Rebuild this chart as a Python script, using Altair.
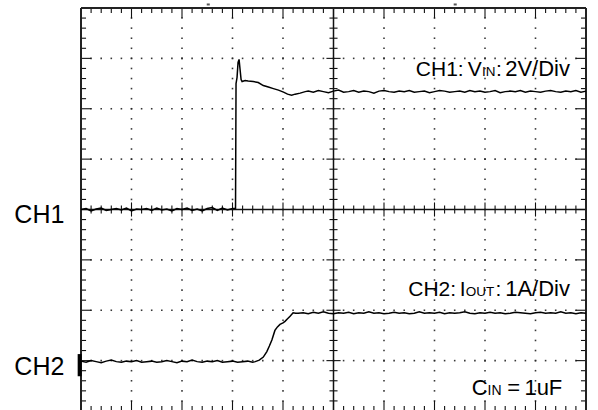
import altair as alt
import numpy as np
import pandas as pd

# ---------------- data (screen divisions: x 0..10, y -4..4) ----------------
STEP = 0.1

# CH1: V_IN (2 V/div) -- baseline on centre line, step with overshoot
ch1_base_start = 0.0
ch1_base_v = [0.0, 0.02, -0.03, 0.01, 0.03, -0.02, 0.0, 0.02, -0.01, 0.03, -0.03,
              0.01, 0.0, 0.02, -0.02, 0.03, -0.01, 0.01, -0.03, 0.02, 0.0, 0.03,
              -0.02, 0.01, -0.03, 0.02, 0.04, -0.02, 0.03, -0.01, 0.02]
ch1_edge_t = [3.06, 3.07, 3.09, 3.11, 3.13, 3.15, 3.17, 3.19, 3.25, 3.31, 3.41,
              3.51, 3.61, 3.71, 3.81, 3.91, 4.01, 4.09, 4.17, 4.24, 4.34, 4.44]
ch1_edge_v = [0.02, 2.50, 2.62, 2.92, 2.98, 2.78, 2.58, 2.54, 2.56, 2.55, 2.54,
              2.52, 2.46, 2.43, 2.40, 2.37, 2.33, 2.29, 2.27, 2.29, 2.31, 2.34]
ch1_flat_start = 4.5
ch1_flat_v = [2.35, 2.33, 2.36, 2.34, 2.32, 2.35, 2.37, 2.33, 2.34, 2.36, 2.33,
              2.35, 2.34, 2.31, 2.35, 2.36, 2.34, 2.33, 2.35, 2.34, 2.36, 2.33,
              2.34, 2.35, 2.32, 2.34, 2.36, 2.35, 2.33, 2.34, 2.35, 2.33, 2.36,
              2.34, 2.35, 2.33, 2.34, 2.36, 2.32, 2.34, 2.35, 2.34, 2.36, 2.33,
              2.35, 2.34, 2.33, 2.35, 2.36, 2.34, 2.33, 2.35, 2.34, 2.36, 2.33, 2.35]

# CH2: I_OUT (1 A/div) -- ramps one division
ch2_base_start = 0.0
ch2_base_v = [-3.01, -3.03, -3.0, -3.02, -3.04, -3.01, -2.99, -3.02, -3.03, -3.01,
              -3.02, -3.0, -3.03, -3.02, -3.01, -3.03, -3.02, -3.0, -3.02, -3.04,
              -3.01, -3.02, -2.99, -3.02, -3.03, -3.01, -3.02, -3.0, -3.03, -3.02,
              -3.01, -3.03, -3.02, -3.01, -3.03]
ch2_edge_t = [3.45, 3.53, 3.61, 3.68, 3.73, 3.78, 3.84, 3.89, 3.94, 4.00, 4.04,
              4.09, 4.14, 4.20, 4.25]
ch2_edge_v = [-3.02, -2.99, -2.93, -2.82, -2.71, -2.59, -2.40, -2.33, -2.28, -2.25,
              -2.22, -2.17, -2.12, -2.05, -2.06]
ch2_flat_start = 4.3
ch2_flat_v = [-2.06, -2.05, -2.07, -2.04, -2.06, -2.03, -2.06, -2.07, -2.05, -2.06,
              -2.04, -2.07, -2.05, -2.06, -2.03, -2.06, -2.05, -2.07, -2.06, -2.04,
              -2.06, -2.05, -2.07, -2.06, -2.03, -2.06, -2.05, -2.06, -2.04, -2.07,
              -2.05, -2.06, -2.05, -2.03, -2.06, -2.07, -2.05, -2.06, -2.04, -2.06,
              -2.05, -2.07, -2.06, -2.04, -2.05, -2.06, -2.07, -2.05, -2.04, -2.06,
              -2.05, -2.06, -2.03, -2.06, -2.05, -2.07, -2.05, -2.06]

# annotation texts: (label, x_div, y_div, font size)
ann_labels = ["CH1:", "V", "IN", ":", "2V/Div",
              "CH2:", "I", "OUT", ":", "1A/Div",
              "C", "IN", "=", "1uF",
              "CH1", "CH2"]
ann_x = [6.63, 7.66, 7.94, 8.22, 8.40,
         6.48, 7.50, 7.62, 8.21, 8.40,
         7.74, 8.05, 8.44, 8.78,
         -1.32, -1.32]
ann_y = [2.66, 2.66, 2.66, 2.66, 2.66,
         -1.715, -1.715, -1.715, -1.715, -1.715,
         -3.69, -3.69, -3.69, -3.69,
         -0.27, -3.29]
ann_size = [21, 21, 13.5, 21, 22,
            21, 21, 13.5, 21, 22,
            22, 14, 22, 22,
            25, 25]

# small trigger markers above the screen
mark_x = [2.49, 7.38]
mark_x2 = [2.55, 7.44]

# ---------------- build tables ----------------
def trace(base_start, base_v, edge_t, edge_v, flat_start, flat_v):
    t = ([round(base_start + i * STEP, 3) for i in range(len(base_v))]
         + edge_t
         + [round(flat_start + i * STEP, 3) for i in range(len(flat_v))])
    return pd.DataFrame({"t": t, "v": base_v + edge_v + flat_v})

ch1 = trace(ch1_base_start, ch1_base_v, ch1_edge_t, ch1_edge_v, ch1_flat_start, ch1_flat_v)
ch2 = trace(ch2_base_start, ch2_base_v, ch2_edge_t, ch2_edge_v, ch2_flat_start, ch2_flat_v)

# graticule
xs = np.round(np.arange(0, 10.001, 0.2), 3)
ys = np.round(np.arange(-4, 4.001, 0.2), 3)
dots = []
for xm in [1, 2, 3, 4, 6, 7, 8, 9]:
    for y in ys:
        dots.append((xm, y))
for ym in [-3, -2, -1, 1, 2, 3]:
    for x in xs:
        dots.append((x, ym))
dots_df = pd.DataFrame(dots, columns=["x", "y"])

segs = []
for x in xs[1:-1]:
    major = abs(x - round(x)) < 1e-6
    L = 0.2 if major else 0.1
    c = 0.14 if major else 0.08
    segs += [(x, x, 4, 4 - L), (x, x, -4, -4 + L), (x, x, -c, c)]
for y in ys[1:-1]:
    major = abs(y - round(y)) < 1e-6
    L = 0.2 if major else 0.1
    c = 0.14 if major else 0.08
    segs += [(0, L, y, y), (10, 10 - L, y, y), (5 - c, 5 + c, y, y)]
ticks_df = pd.DataFrame(segs, columns=["x", "x2", "y", "y2"])

frame_df = pd.DataFrame([(0, 0, -4, 4), (10, 10, -4, 4), (0, 10, 4, 4), (0, 10, -4, -4)],
                        columns=["x", "x2", "y", "y2"])
center_df = pd.DataFrame([(5, 5, -4, 4), (0, 10, 0, 0)], columns=["x", "x2", "y", "y2"])
marker_df = pd.DataFrame([(-0.066, 0.013, -2.87, -3.31)], columns=["x", "x2", "y", "y2"])
trig_df = pd.DataFrame({"x": mark_x, "x2": mark_x2, "y": [4.07] * len(mark_x)})
ann_df = pd.DataFrame({"label": ann_labels, "x": ann_x, "y": ann_y, "fs": ann_size})

# ---------------- chart ----------------
xsc = alt.Scale(domain=[0, 10], nice=False, zero=False)
ysc = alt.Scale(domain=[-4, 4], nice=False, zero=False)

def XY(xf, yf):
    return dict(x=alt.X(xf, type="quantitative", scale=xsc, axis=None),
                y=alt.Y(yf, type="quantitative", scale=ysc, axis=None))

dots_l = alt.Chart(dots_df).mark_square(size=2.5, color="#222", opacity=0.9).encode(**XY("x", "y"))
ticks_l = alt.Chart(ticks_df).mark_rule(color="#111", strokeWidth=1.1).encode(
    **XY("x", "y"), x2="x2:Q", y2="y2:Q")
frame_l = alt.Chart(frame_df).mark_rule(color="#222", strokeWidth=2).encode(
    **XY("x", "y"), x2="x2:Q", y2="y2:Q")
center_l = alt.Chart(center_df).mark_rule(color="#111", strokeWidth=1.5).encode(
    **XY("x", "y"), x2="x2:Q", y2="y2:Q")
marker_l = alt.Chart(marker_df).mark_rect(color="black").encode(
    **XY("x", "y"), x2="x2:Q", y2="y2:Q")
trig_l = alt.Chart(trig_df).mark_rule(color="#555", strokeWidth=2).encode(
    **XY("x", "y"), x2="x2:Q")
ch1_l = alt.Chart(ch1).mark_line(color="black", strokeWidth=1.5).encode(**XY("t", "v"))
ch2_l = alt.Chart(ch2).mark_line(color="black", strokeWidth=1.5).encode(**XY("t", "v"))
text_l = alt.Chart(ann_df).mark_text(align="left", baseline="alphabetic",
                                     font="Liberation Sans", color="black").encode(
    **XY("x", "y"), text="label:N", size=alt.Size("fs:Q", scale=None, legend=None))

chart = alt.layer(dots_l, ticks_l, center_l, frame_l, marker_l, trig_l,
                  ch1_l, ch2_l, text_l).properties(
    width=505, height=403,
    padding={"left": 81, "top": 8, "right": 12, "bottom": 0},
    autosize=alt.AutoSizeParams(type="none"),
    background="white",
).configure_view(stroke=None)

chart.save("out.html", embed_options={"renderer": "svg", "actions": False})
